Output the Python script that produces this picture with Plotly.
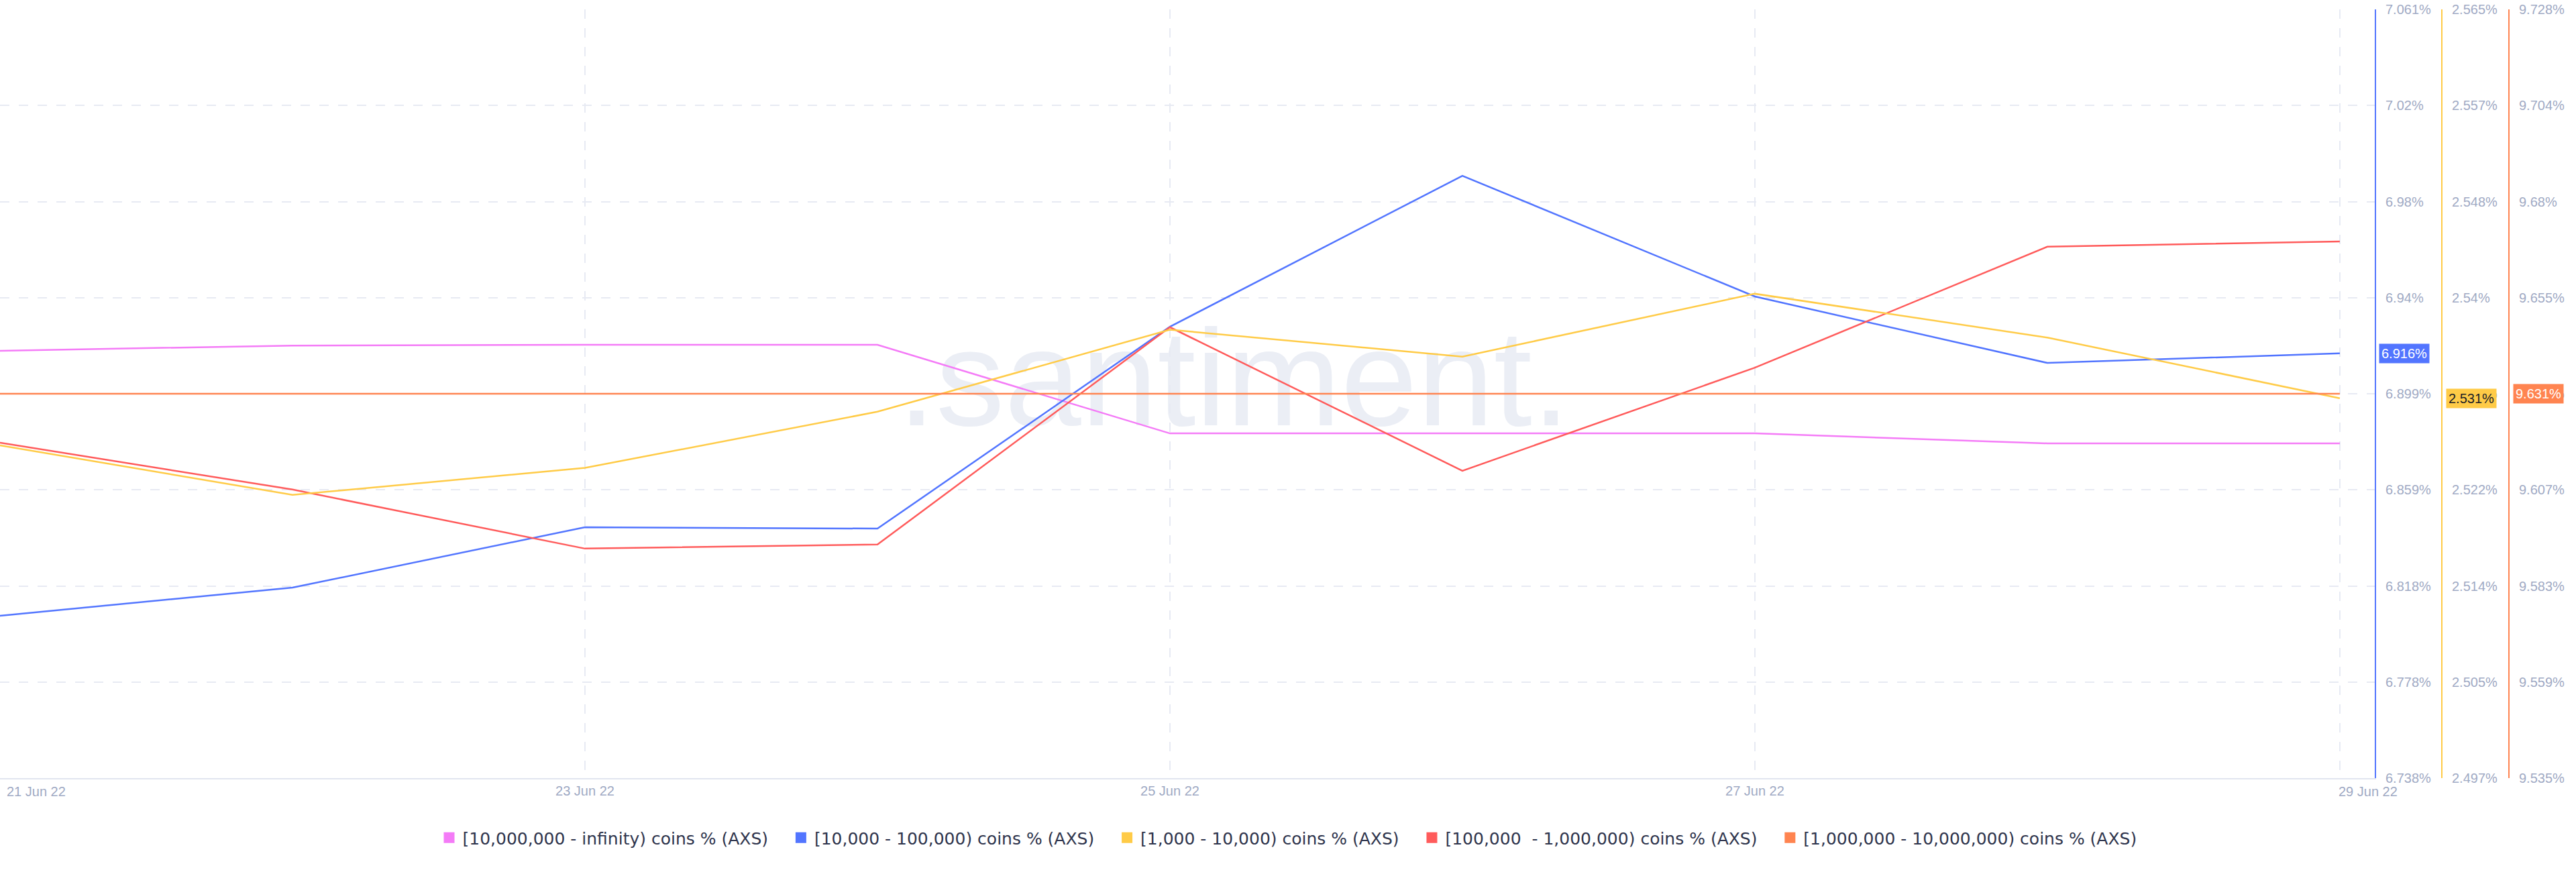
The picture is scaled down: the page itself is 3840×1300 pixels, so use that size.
import numpy as np
import plotly.graph_objects as go

# Data (AXS holder distribution, daily)
dates = ["2022-06-21", "2022-06-22", "2022-06-23", "2022-06-24", "2022-06-25",
         "2022-06-26", "2022-06-27", "2022-06-28", "2022-06-29"]

# [10,000,000 - infinity) and [100,000 - 1,000,000) have no visible scale,
# so they are read against the first (blue) scale
holders_10m_inf = [6.9172, 6.9194, 6.9197, 6.9197, 6.8825, 6.8825, 6.8825, 6.8783, 6.8783]
holders_10k_100k = [6.8059, 6.8177, 6.8431, 6.8425, 6.9273, 6.9907, 6.9400, 6.9121, 6.9161]
holders_1k_10k = [2.5264, 2.5220, 2.5244, 2.5294, 2.5367, 2.5343, 2.5399, 2.5360, 2.5306]
holders_100k_1m = [6.8786, 6.8589, 6.8341, 6.8358, 6.9271, 6.8668, 6.9101, 6.9609, 6.9631]
holders_1m_10m = [9.6312, 9.6312, 9.6312, 9.6312, 9.6312, 9.6312, 9.6312, 9.6312, 9.6312]

names = ["[10,000,000 - infinity) coins % (AXS)",
         "[10,000 - 100,000) coins % (AXS)",
         "[1,000 - 10,000) coins % (AXS)",
         "[100,000  - 1,000,000) coins % (AXS)",
         "[1,000,000 - 10,000,000) coins % (AXS)"]

# axis tick labels
blue_ticks = ["6.738%", "6.778%", "6.818%", "6.859%", "6.899%", "6.94%", "6.98%", "7.02%", "7.061%"]
yellow_ticks = ["2.497%", "2.505%", "2.514%", "2.522%", "2.531%", "2.54%", "2.548%", "2.557%", "2.565%"]
orange_ticks = ["9.535%", "9.559%", "9.583%", "9.607%", "9.631%", "9.655%", "9.68%", "9.704%", "9.728%"]
blue_range = [6.7377, 7.0606]
yellow_range = [2.4968, 2.5652]
orange_range = [9.5346, 9.7278]

x_tick_dates = ["2022-06-21", "2022-06-23", "2022-06-25", "2022-06-27", "2022-06-29"]
x_tick_labels = ["21 Jun 22", "23 Jun 22", "25 Jun 22", "27 Jun 22", "29 Jun 22"]

# Colors
PINK = "#f47bf7"
BLUE = "#5275ff"
YELLOW = "#ffcb47"
RED = "#ff5b5b"
ORANGE = "#ff8450"
GRID = "#e7eaf3"
TICK = "#9faac4"

W, H = 3840, 1300
PLOT_RIGHT = 3540

fig = go.Figure()

series = [
    (names[0], holders_10m_inf, PINK, "y"),
    (names[1], holders_10k_100k, BLUE, "y"),
    (names[2], holders_1k_10k, YELLOW, "y2"),
    (names[3], holders_100k_1m, RED, "y"),
    (names[4], holders_1m_10m, ORANGE, "y3"),
]

# Lines
for name, vals, color, ax in series:
    fig.add_trace(go.Scatter(
        x=dates, y=vals, name=name, mode="lines",
        line=dict(color=color, width=2.5), yaxis=ax, showlegend=False,
    ))

# Square legend entries (a bit of trailing space to match the item spacing)
for i, (name, vals, color, ax) in enumerate(series):
    pad = "" if i == len(series) - 1 else "\u00a0\u00a0\u00a0"
    fig.add_trace(go.Scatter(
        x=[None], y=[None], name=name + pad, mode="markers",
        marker=dict(symbol="square", size=16, color=color),
    ))

tick_font = dict(family="Liberation Sans, Arial, sans-serif", size=20, color=TICK)

def right_axis(rng, labels, color, grid):
    return dict(
        range=rng, tickvals=list(np.linspace(rng[0], rng[1], len(labels))), ticktext=labels,
        side="right", showline=True, linecolor=color, linewidth=2,
        showgrid=grid, gridcolor=GRID, gridwidth=2, griddash="14px,14px",
        zeroline=False, ticks="", ticklabelstandoff=10, tickfont=tick_font,
        automargin=False, fixedrange=True,
    )

yaxis = right_axis(blue_range, blue_ticks, BLUE, True)
yaxis.update(anchor="x")
yaxis2 = right_axis(yellow_range, yellow_ticks, YELLOW, False)
yaxis2.update(anchor="free", overlaying="y", position=3640 / W)
yaxis3 = right_axis(orange_range, orange_ticks, ORANGE, False)
yaxis3.update(anchor="free", overlaying="y", position=3740 / W)

fig.update_layout(
    template="none",
    width=W, height=H,
    margin=dict(l=0, r=0, t=14, b=140, pad=0),
    paper_bgcolor="white", plot_bgcolor="white",
    font=tick_font,
    xaxis=dict(
        domain=[0, PLOT_RIGHT / W], type="date",
        range=["2022-06-21", "2022-06-29 02:52"],
        tickvals=x_tick_dates, ticktext=[""] + x_tick_labels[1:-1] + [""],
        showgrid=True, gridcolor=GRID, gridwidth=2, griddash="14px,14px",
        showline=True, linecolor="#e1e5ef", linewidth=2,
        zeroline=False, ticks="", tickfont=tick_font, automargin=False,
    ),
    yaxis=yaxis, yaxis2=yaxis2, yaxis3=yaxis3,
    showlegend=True,
    legend=dict(
        orientation="h", x=0.5, xanchor="center", xref="container",
        y=1 - 1249 / H, yref="container", yanchor="middle",
        font=dict(family="DejaVu Sans, sans-serif", size=25, color="#2f354d"),
        bgcolor="rgba(0,0,0,0)", itemsizing="trace",
    ),
    hovermode="x unified",
)

# Edge date labels are aligned to the left of their tick in the original
fig.add_annotation(x=x_tick_dates[0], y=-20 / 1146, xref="x", yref="paper",
                   text=x_tick_labels[0], showarrow=False, xanchor="left", yanchor="middle",
                   xshift=8, font=tick_font)
fig.add_annotation(x=x_tick_dates[-1], y=-20 / 1146, xref="x", yref="paper",
                   text=x_tick_labels[-1], showarrow=False, xanchor="left", yanchor="middle",
                   xshift=-4, font=tick_font)

# Last-value badges on each visible scale
badges = [
    (holders_10k_100k[-1], "y", 3546, BLUE, "white"),
    (holders_1k_10k[-1], "y2", 3646, YELLOW, "#1b1d26"),
    (holders_1m_10m[-1], "y3", 3746, ORANGE, "white"),
]
for val, yref, xpx, bg, fg in badges:
    fig.add_annotation(
        x=xpx / W, y=val, xref="paper", yref=yref,
        text=f"{val:.3f}%", showarrow=False, xanchor="left", yanchor="middle",
        bgcolor=bg, borderpad=3,
        font=dict(family="Liberation Sans, Arial, sans-serif", size=20, color=fg),
    )

# Watermark, drawn under the lines
wm_x, wm_y = 0.479, 0.538
fig.add_shape(
    type="rect", xref="paper", yref="paper",
    x0=wm_x - 0.18, x1=wm_x + 0.18, y0=wm_y - 0.1, y1=wm_y + 0.1, layer="below",
    line=dict(width=0), fillcolor="rgba(0,0,0,0)",
    label=dict(text=".santiment.", textposition="middle center",
               font=dict(family="Liberation Sans, Arial, sans-serif", size=205, color="#ebeef5")),
)

fig.write_html("out.html", config={"displayModeBar": False},
               post_script="document.body.style.margin='0';")
